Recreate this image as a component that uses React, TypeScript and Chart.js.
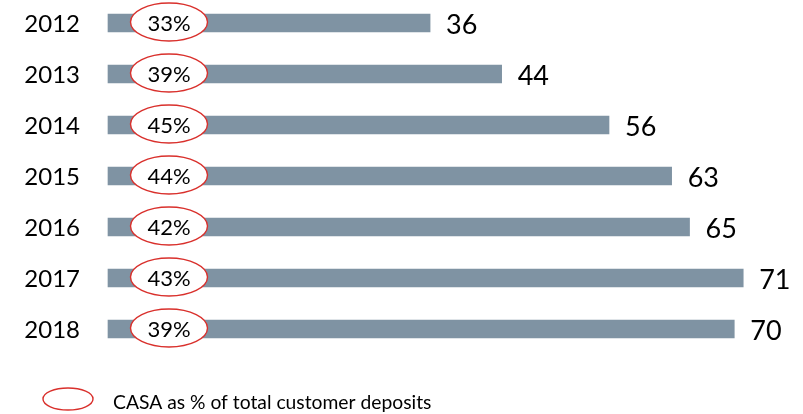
import React, { useEffect, useRef } from "react";
import { Chart, registerables } from "chart.js";

Chart.register(...registerables);

const years = ["2012", "2013", "2014", "2015", "2016", "2017", "2018"];
const deposits = [36, 44, 56, 63, 65, 71, 70];
const casaPct = [33, 39, 45, 44, 42, 43, 39];
const legendLabel = "CASA as % of total customer deposits";

const FONT = "Lato, 'Open Sans', sans-serif";
const BAR_COLOR = "#7f93a3";
const RING_COLOR = "#d9302c";

const labelPlugin = {
  id: "casaLabels",
  afterDatasetsDraw(chart: any) {
    const { ctx } = chart;
    const meta = chart.getDatasetMeta(0);
    const xScale = chart.scales.x;
    const zeroX = xScale.getPixelForValue(0);
    ctx.save();
    meta.data.forEach((bar: any, i: number) => {
      const y = bar.y;
      // year label on the left
      ctx.fillStyle = "#000";
      ctx.font = `24px ${FONT}`;
      ctx.textAlign = "right";
      ctx.textBaseline = "middle";
      ctx.fillText(years[i], zeroX - 28, y + 1);
      // value label after the bar end
      ctx.font = `27px ${FONT}`;
      ctx.textAlign = "left";
      ctx.fillText(String(deposits[i]), bar.x + 16, y + 2);
      // CASA share inside a red ring
      const cx = zeroX + 61;
      const cy = y - 1;
      ctx.beginPath();
      ctx.ellipse(cx, cy, 38.5, 19, 0, 0, Math.PI * 2);
      ctx.fillStyle = "#fff";
      ctx.fill();
      ctx.lineWidth = 1.4;
      ctx.strokeStyle = RING_COLOR;
      ctx.stroke();
      ctx.fillStyle = "#000";
      ctx.font = `22px ${FONT}`;
      ctx.textAlign = "center";
      ctx.fillText(`${casaPct[i]}%`, cx, y + 1);
    });
    // legend
    ctx.beginPath();
    ctx.ellipse(68, 399, 25, 11, 0, 0, Math.PI * 2);
    ctx.lineWidth = 1.4;
    ctx.strokeStyle = RING_COLOR;
    ctx.stroke();
    ctx.fillStyle = "#000";
    ctx.font = `19.3px ${FONT}`;
    ctx.textAlign = "left";
    ctx.textBaseline = "middle";
    ctx.fillText(legendLabel, 113, 403);
    ctx.restore();
  },
};

export default function App() {
  const ref = useRef<HTMLCanvasElement | null>(null);
  useEffect(() => {
    if (!ref.current) return;
    const chart = new Chart(ref.current, {
      type: "bar",
      data: {
        labels: years,
        datasets: [
          {
            data: deposits,
            backgroundColor: BAR_COLOR,
            barThickness: 18,
            clip: false as any,
          },
        ],
      },
      options: {
        indexAxis: "y",
        animation: false,
        responsive: false,
        devicePixelRatio: 1,
        layout: { padding: { left: 108, right: 24, top: 23, bottom: 85 } },
        plugins: { legend: { display: false }, tooltip: { enabled: false } },
        scales: {
          x: { display: false, min: 0, max: 75 },
          y: { display: false, offset: false },
        },
      },
      plugins: [labelPlugin],
    });
    return () => chart.destroy();
  }, []);
  return (
    <div style={{ position: "absolute", left: 0, top: 0, width: 803, height: 414, background: "#fff" }}>
      <canvas ref={ref} width={803} height={414} />
    </div>
  );
}
